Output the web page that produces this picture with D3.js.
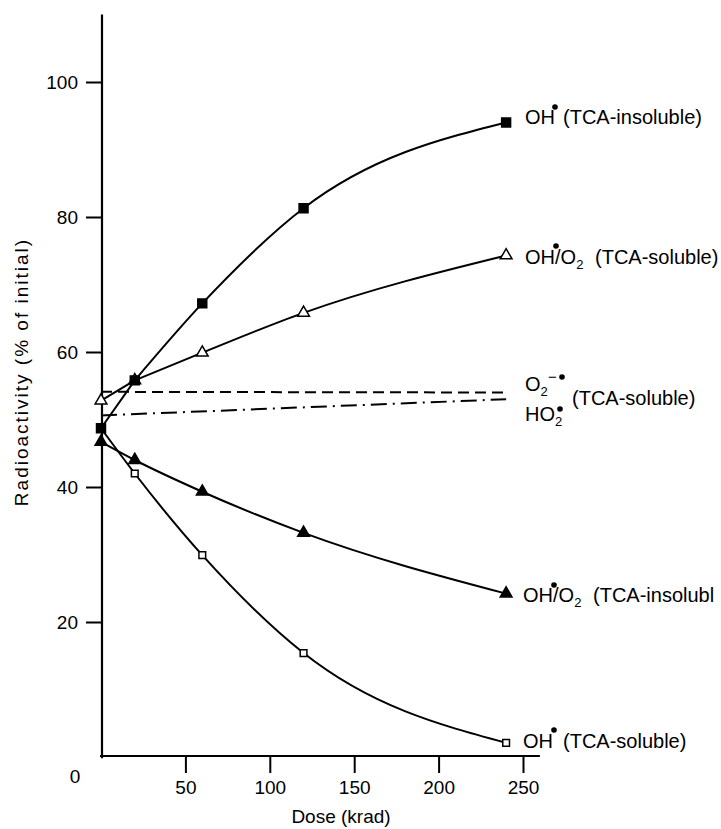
<!DOCTYPE html>
<html><head><meta charset="utf-8">
<script src="https://cdn.jsdelivr.net/npm/d3@7"></script>
<style>
html,body{margin:0;padding:0;background:#fff;}
text{font-family:"Liberation Sans",Arial,Helvetica,sans-serif;fill:#000;}
</style></head>
<body>
<svg id="chart" width="721" height="829"></svg>
<script>
// ---- data ----
const doses = [0, 20, 60, 120, 240];
const ohInsoluble = [48.7, 55.8, 67.2, 81.3, 94.0];      // filled squares
const ohO2Soluble = [52.8, 55.8, 59.9, 65.8, 74.3];      // open triangles
const ohO2Insoluble = [46.7, 44.0, 39.3, 33.2, 24.2];    // filled triangles
const ohSoluble = [48.7, 42.0, 29.9, 15.4, 2.1];         // open squares
const superoxideDoses = [0, 240];
const o2Soluble = [54.1, 54.0];                           // dashed
const ho2Soluble = [50.6, 53.0];                          // dash-dot
const xTicks = [50, 100, 150, 200, 250];
const yTicks = [20, 40, 60, 80, 100];

const svg = d3.select("#chart");
const x = d3.scaleLinear().domain([0, 250]).range([101, 523]);
const y = d3.scaleLinear().domain([0, 110]).range([757, 14.5]);

// axes
const xAxis = d3.axisBottom(x).tickValues(xTicks).tickSize(17).tickSizeOuter(0).tickPadding(8);
const gx = svg.append("g").attr("transform", "translate(0,756)").call(xAxis);
gx.select(".domain").attr("d", `M${x(-0.6)},0H${x(260)}`).attr("stroke", "#000").attr("stroke-width", 2.2);
gx.selectAll(".tick line").attr("stroke", "#000").attr("stroke-width", 2);
gx.selectAll(".tick text").attr("font-size", 19).attr("fill", "#000").attr("font-family", "Liberation Sans, Arial, sans-serif");

const yAxis = d3.axisLeft(y).tickValues(yTicks).tickSize(16).tickSizeOuter(0).tickPadding(8);
const gy = svg.append("g").attr("transform", `translate(${x(0) + 1},0)`).call(yAxis);
gy.select(".domain").attr("d", `M0,${y(110)}V${y(-0.2)}`).attr("stroke", "#000").attr("stroke-width", 2.2);
gy.selectAll(".tick line").attr("stroke", "#000").attr("stroke-width", 2);
gy.selectAll(".tick text").attr("font-size", 19).attr("fill", "#000").attr("font-family", "Liberation Sans, Arial, sans-serif");

svg.append("text").attr("x", 75).attr("y", 783).attr("text-anchor", "middle").attr("font-size", 19).text("0");

svg.append("text").attr("x", 341).attr("y", 823).attr("text-anchor", "middle").attr("font-size", 19).text("Dose (krad)");
svg.append("text").attr("transform", "translate(28,372) rotate(-90)").attr("text-anchor", "middle")
  .attr("font-size", 19).attr("letter-spacing", 2).text("Radioactivity (% of initial)");

// lines
const pts = vals => doses.map((d, i) => [d, vals[i]]);
const curve = d3.line().x(d => x(d[0])).y(d => y(d[1])).curve(d3.curveMonotoneX);
const straight = d3.line().x(d => x(d[0])).y(d => y(d[1]));
function drawSeries(vals, splitFirst) {
  const p = pts(vals);
  if (splitFirst) {
    svg.append("path").attr("d", straight(p.slice(0, 2))).attr("fill", "none").attr("stroke", "#000").attr("stroke-width", 2);
    svg.append("path").attr("d", curve(p.slice(1))).attr("fill", "none").attr("stroke", "#000").attr("stroke-width", 2);
  } else {
    svg.append("path").attr("d", curve(p)).attr("fill", "none").attr("stroke", "#000").attr("stroke-width", 2);
  }
}
drawSeries(ohInsoluble, true);
drawSeries(ohO2Soluble, true);
drawSeries(ohO2Insoluble, false);
drawSeries(ohSoluble, false);

const sp = vals => superoxideDoses.map((d, i) => [d, vals[i]]);
svg.append("path").attr("d", straight(sp(o2Soluble))).attr("fill", "none").attr("stroke", "#000")
  .attr("stroke-width", 2).attr("stroke-dasharray", "11,6");
svg.append("path").attr("d", straight(sp(ho2Soluble))).attr("fill", "none").attr("stroke", "#000")
  .attr("stroke-width", 2).attr("stroke-dasharray", "16,6,2,6");

// markers
const sym = (type, size) => d3.symbol().type(type).size(size)();
function drawMarkers(vals, type, size, filled) {
  svg.append("g").selectAll("path").data(pts(vals)).join("path")
    .attr("transform", d => `translate(${x(d[0])},${y(d[1])})`)
    .attr("d", sym(type, size))
    .attr("fill", filled ? "#000" : "#fff").attr("stroke", "#000").attr("stroke-width", 1.5);
}
drawMarkers(ohSoluble, d3.symbolSquare, 45, false);
drawMarkers(ohO2Insoluble, d3.symbolTriangle, 60, true);
drawMarkers(ohO2Soluble, d3.symbolTriangle, 60, false);
drawMarkers(ohInsoluble, d3.symbolSquare, 80, true);

// labels
const FS = 20;
function txt(xp, yp, s, fs) {
  return svg.append("text").attr("x", xp).attr("y", yp).attr("font-size", fs || FS).text(s);
}
function dot(cx, cy) {
  svg.append("circle").attr("cx", cx).attr("cy", cy).attr("r", 2.8).attr("fill", "#000");
}
function withSub(xp, yp, before, sub, after) {
  const t = svg.append("text").attr("x", xp).attr("y", yp).attr("font-size", FS);
  t.append("tspan").text(before);
  t.append("tspan").attr("dy", 5).attr("font-size", 13).text(sub);
  if (after) t.append("tspan").attr("dy", -5).text(after);
  return t;
}
// OH• (TCA-insoluble)
txt(525, 124, "OH"); dot(555, 107); txt(563, 124, "(TCA-insoluble)");
// OH•/O2 (TCA-soluble)
txt(525, 264, "OH"); dot(556, 246); withSub(555, 264, "/O", "2"); txt(595, 264, "(TCA-soluble)");
// O2−• / HO2• (TCA-soluble)
withSub(525, 391, "O", "2");
svg.append("text").attr("x", 548).attr("y", 382).attr("font-size", 15).text("−");
dot(562, 377);
withSub(525, 421, "HO", "2"); dot(560, 409);
txt(572, 405, "(TCA-soluble)");
// OH•/O2 (TCA-insolubl  — cut at the picture's edge in the original
txt(523, 602, "OH"); dot(554, 585); withSub(553, 602, "/O", "2"); txt(593, 602, "(TCA-insolubl");
// OH• (TCA-soluble)
txt(523, 748, "OH"); dot(554, 730); txt(563, 748, "(TCA-soluble)");
</script>
</body></html>
